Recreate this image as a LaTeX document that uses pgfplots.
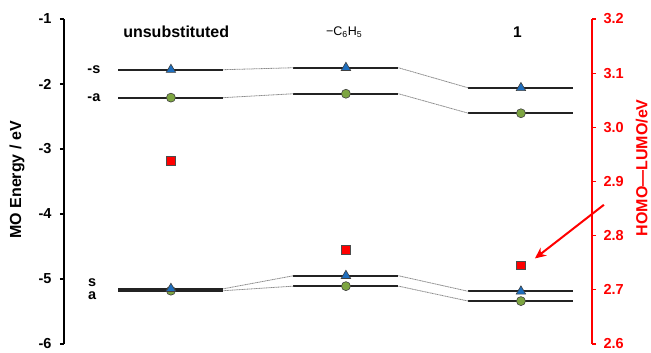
\documentclass[border=0pt]{standalone}
\usepackage{fontspec}
\setmainfont{Liberation Sans}
\usepackage{pgfplots}
\pgfplotsset{compat=1.18}
\usetikzlibrary{arrows.meta}
\definecolor{lvl}{RGB}{35,35,35}
\definecolor{conn}{RGB}{140,140,140}
\definecolor{triblue}{RGB}{30,110,190}
\definecolor{cgreen}{RGB}{125,165,65}
\definecolor{sqred}{RGB}{255,0,0}
\pgfplotsset{
  lev/.style={lvl, line width=2pt, no marks},
  con/.style={conn, line width=0.8pt, dash pattern=on 1.2pt off 0.5pt, no marks},
}
\begin{document}
\begin{tikzpicture}
\path[use as bounding box] (-64pt,-9pt) rectangle (587pt,344pt);
\begin{axis}[
  scale only axis, width=528pt, height=325pt,
  xmin=0.389, xmax=3.406, ymin=-6, ymax=-1,
  axis x line=none, axis y line*=left,
  axis line style={-, line width=1.5pt},
  ytick={-6,-5,-4,-3,-2,-1},
  tick align=outside, major tick length=4pt,
  tick style={line width=1.2pt, black},
  /pgf/number format/assume math mode=true,
  yticklabel style={font=\fontsize{14.5}{16}\selectfont\bfseries, xshift=-5pt},
  clip=false,
  every axis y label/.style={at={(axis description cs:-0.089,0.505)},anchor=center,rotate=90},
  ylabel={\fontsize{16}{18}\selectfont\bfseries MO Energy / eV},
]
% LUMO+ levels (-s, -a)
\addplot[lev] coordinates {(0.7,-1.78) (1.3,-1.78)};
\addplot[lev] coordinates {(0.7,-2.21) (1.3,-2.21)};
\addplot[lev] coordinates {(1.7,-1.75) (2.3,-1.75)};
\addplot[lev] coordinates {(1.7,-2.15) (2.3,-2.15)};
\addplot[lev] coordinates {(2.7,-2.06) (3.3,-2.06)};
\addplot[lev] coordinates {(2.7,-2.45) (3.3,-2.45)};
% HOMO levels (s, a)
\addplot[lev] coordinates {(0.7,-5.15) (1.3,-5.15)};
\addplot[lev] coordinates {(0.7,-5.18) (1.3,-5.18)};
\addplot[lev] coordinates {(1.7,-4.95) (2.3,-4.95)};
\addplot[lev] coordinates {(1.7,-5.11) (2.3,-5.11)};
\addplot[lev] coordinates {(2.7,-5.19) (3.3,-5.19)};
\addplot[lev] coordinates {(2.7,-5.34) (3.3,-5.34)};
% connectors
\addplot[con] coordinates {(1.3,-1.78) (1.7,-1.75)};
\addplot[con] coordinates {(1.3,-2.21) (1.7,-2.15)};
\addplot[con] coordinates {(2.3,-1.75) (2.7,-2.06)};
\addplot[con] coordinates {(2.3,-2.15) (2.7,-2.45)};
\addplot[con] coordinates {(1.3,-5.15) (1.7,-4.95)};
\addplot[con] coordinates {(1.3,-5.18) (1.7,-5.11)};
\addplot[con] coordinates {(2.3,-4.95) (2.7,-5.19)};
\addplot[con] coordinates {(2.3,-5.11) (2.7,-5.34)};
% markers
\addplot[only marks, mark=*, mark size=4.5pt, mark options={fill=cgreen, draw=black!75, line width=0.6pt}]
  coordinates {(1,-2.21) (2,-2.15) (3,-2.45) (1,-5.18) (2,-5.11) (3,-5.34)};
\addplot[only marks, mark=triangle*, mark size=5.5pt, mark options={fill=triblue, draw=black!75, line width=0.6pt}]
  coordinates {(1,-1.78) (2,-1.75) (3,-2.06) (1,-5.15) (2,-4.95) (3,-5.19)};
% labels
\node[font=\fontsize{16}{18}\selectfont\bfseries] at (axis cs:1.03,-1.2) {unsubstituted};
\node[font=\fontsize{12.5}{14}\selectfont] at (axis cs:1.99,-1.2) {−C\textsubscript{6}H\textsubscript{5}};
\node[font=\fontsize{15.5}{17}\selectfont\bfseries] at (axis cs:2.98,-1.2) {1};
\node[font=\fontsize{14.5}{16}\selectfont\bfseries] at (axis cs:0.56,-1.78) {-s};
\node[font=\fontsize{14.5}{16}\selectfont\bfseries] at (axis cs:0.56,-2.21) {-a};
\node[font=\fontsize{14.5}{16}\selectfont\bfseries] at (axis cs:0.55,-5.05) {s};
\node[font=\fontsize{14.5}{16}\selectfont\bfseries] at (axis cs:0.55,-5.25) {a};
\end{axis}
\begin{axis}[
  scale only axis, width=528pt, height=325pt,
  xmin=0.389, xmax=3.406, ymin=2.6, ymax=3.2,
  axis x line=none, axis y line*=right,
  axis line style={-, line width=1.5pt, sqred},
  ytick={2.6,2.7,2.8,2.9,3.0,3.1,3.2},
  tick align=outside, major tick length=4pt,
  tick style={line width=1.2pt, sqred},
  /pgf/number format/assume math mode=true,
  /pgf/number format/.cd, fixed, fixed zerofill, precision=1, /pgfplots/.cd,
  yticklabel style={font=\fontsize{14.5}{16}\selectfont\bfseries, text=sqred, xshift=4pt},
  clip=false,
  every axis y label/.style={at={(axis description cs:1.094,0.542)},anchor=center,rotate=90},
  ylabel={\fontsize{16}{18}\selectfont\bfseries\color{sqred}HOMO—LUMO/eV},
]
\addplot[only marks, mark=square*, mark size=4.2pt, mark options={fill=sqred, draw=black!70, line width=0.6pt}]
  coordinates {(1,2.938) (2,2.774) (3,2.745)};
\draw[sqred, line width=2pt, -{Stealth[length=11pt,width=10pt]}] (axis cs:3.474,2.857) -- (axis cs:3.08,2.758);
\end{axis}
\end{tikzpicture}
\end{document}
